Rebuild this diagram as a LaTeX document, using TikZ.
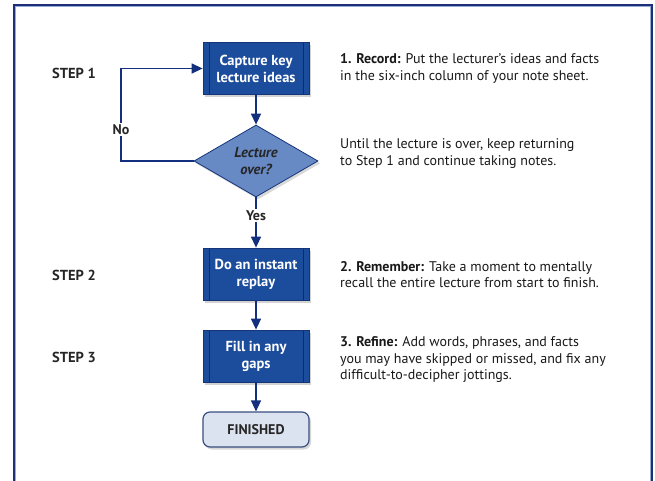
\documentclass[tikz,border=0pt]{standalone}
\usepackage{fontspec}
\setmainfont{PT Sans}
\usetikzlibrary{shapes.geometric,arrows.meta,shadows}
\definecolor{boxblue}{HTML}{1C4C9C}
\definecolor{boxline}{HTML}{15357A}
\definecolor{diablue}{HTML}{6789C4}
\definecolor{navy}{HTML}{13307E}
\definecolor{finfill}{HTML}{DCE3F0}
\definecolor{finline}{HTML}{3A4F80}
\definecolor{framec}{HTML}{1E2F78}
\tikzset{
  procbox/.style={draw=boxline, fill=boxblue, line width=0.8pt, minimum width=106pt, minimum height=52pt,
    text=white, font=\fontsize{14.5}{17}\selectfont\bfseries, align=center, inner sep=0pt,
    drop shadow={opacity=0.35, shadow xshift=2pt, shadow yshift=-2.5pt},
    path picture={
      \draw[boxline!80!black, line width=0.6pt] ([xshift=6pt]path picture bounding box.north west) -- ([xshift=6pt]path picture bounding box.south west);
      \draw[boxline!80!black, line width=0.6pt] ([xshift=-6pt]path picture bounding box.north east) -- ([xshift=-6pt]path picture bounding box.south east);
    }},
  decision/.style={diamond, draw=boxline, fill=diablue, line width=0.8pt, minimum width=124pt, minimum height=72pt,
    shape aspect=1.72, inner sep=0pt, align=center, font=\fontsize{14.5}{17}\selectfont\bfseries\itshape, text=black!85,
    drop shadow={opacity=0.3, shadow xshift=2pt, shadow yshift=-2.5pt}},
  finbox/.style={draw=finline, fill=finfill, line width=1.2pt, rounded corners=7pt, minimum width=106pt, minimum height=35pt,
    font=\fontsize{14}{16}\selectfont\bfseries, text=black!85, inner sep=0pt,
    drop shadow={opacity=0.3, shadow xshift=2pt, shadow yshift=-2.5pt}},
  flow/.style={navy, line width=1.4pt, -{Triangle[length=11pt,width=10pt]}},
  desc/.style={anchor=west, align=left, font=\fontsize{14}{16.8}\selectfont, text=black!90, inner sep=0pt},
  steplbl/.style={anchor=west, font=\fontsize{14.5}{17}\selectfont\bfseries, text=black!85, inner sep=0pt},
  lbl/.style={fill=white, font=\fontsize{14}{16}\selectfont\bfseries, text=black!85, inner sep=1.5pt}
}
\begin{document}
\begin{tikzpicture}[x=1pt,y=-1pt]
\useasboundingbox (0,0) rectangle (655,480);
\clip (0,0) rectangle (655,480);
\fill[white] (0,0) rectangle (655,480);
% frame
\draw[framec, line width=2pt] (14,500) -- (14,5) -- (652,5) -- (652,500);
\draw[diablue!70, line width=0.8pt] (15.8,500) -- (15.8,6.8) -- (650.2,6.8) -- (650.2,500);

% step labels
\node[steplbl] (s1) at (52,73) {STEP 1};
\node[steplbl] (s2) at (52,275) {STEP 2};
\node[steplbl] (s3) at (52,357) {STEP 3};

% flow nodes
\node[procbox] (cap) at (256,68.5) {Capture key\\lecture ideas};
\node[decision] (dia) at (256,161) {Lecture\\over?};
\node[procbox] (rep) at (256,274) {Do an instant\\replay};
\node[procbox] (fill) at (256,356) {Fill in any\\gaps};
\node[finbox] (fin) at (256,429.5) {FINISHED};

% connectors
\draw[flow] (cap.south) -- (dia.north);
\draw[flow] (dia.south) -- node[lbl, pos=0.36] (yes) {Yes} (rep.north);
\draw[flow] (rep.south) -- (fill.north);
\draw[flow] (fill.south) -- (fin.north);
\coordinate (nl) at (121,161);
\draw[flow] (dia.west) -- (nl) |- node[lbl, pos=0.17] (no) {No} (cap.west);

% descriptions
\node[desc] (d1) at (340,68.5) {\textbf{1. Record:} Put the lecturer’s ideas and facts\\in the six-inch column of your note sheet.};
\node[desc] (d2) at (340,153.5) {Until the lecture is over, keep returning\\to Step 1 and continue taking notes.};
\node[desc] (d3) at (340,274.5) {\textbf{2. Remember:} Take a moment to mentally\\recall the entire lecture from start to finish.};
\node[desc] (d4) at (340,359.5) {\textbf{3. Refine:} Add words, phrases, and facts\\you may have skipped or missed, and fix any\\difficult-to-decipher jottings.};
\end{tikzpicture}
\end{document}
